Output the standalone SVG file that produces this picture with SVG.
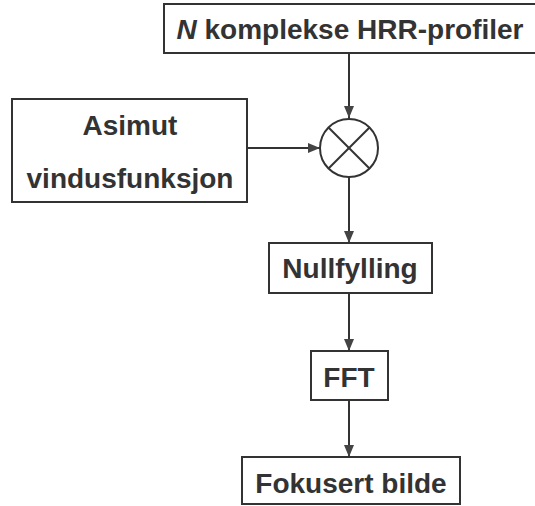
<svg xmlns="http://www.w3.org/2000/svg" width="535" height="506" viewBox="0 0 535 506">
<style>
.box{fill:#fff;stroke:#333;stroke-width:2}
.t{font-family:"Liberation Sans",Arial,sans-serif;font-weight:bold;font-size:28px;fill:#333;text-anchor:middle}
.c{stroke:#333;stroke-width:2;fill:none}
</style>
<defs>
<marker id="ah" markerWidth="12" markerHeight="10" refX="12" refY="5" orient="auto" markerUnits="userSpaceOnUse">
<path d="M0,0 L12,5 L0,10 Z" fill="#444"/>
</marker>
</defs>
<rect width="535" height="506" fill="#fff"/>
<g id="connectors">
<line class="c" x1="349" y1="53" x2="349" y2="118" marker-end="url(#ah)"/>
<line class="c" x1="247" y1="148" x2="320" y2="148" marker-end="url(#ah)"/>
<line class="c" x1="349" y1="177" x2="349" y2="243" marker-end="url(#ah)"/>
<line class="c" x1="349" y1="293" x2="349" y2="351" marker-end="url(#ah)"/>
<line class="c" x1="349" y1="400" x2="349" y2="457" marker-end="url(#ah)"/>
</g>
<g id="n-profiler">
<rect class="box" x="164" y="4" width="372" height="49"/>
<text class="t" x="350" y="39"><tspan font-style="italic">N</tspan> komplekse HRR-profiler</text>
</g>
<g id="asimut">
<rect class="box" x="12" y="99" width="235" height="103"/>
<text class="t" x="130" y="135">Asimut</text>
<text class="t" x="130" y="188">vindusfunksjon</text>
</g>
<g id="multiplier">
<circle class="c" cx="349" cy="148" r="29"/>
<line class="c" x1="328.5" y1="127.5" x2="369.5" y2="168.5"/>
<line class="c" x1="369.5" y1="127.5" x2="328.5" y2="168.5"/>
</g>
<g id="nullfylling">
<rect class="box" x="269" y="243" width="163" height="50"/>
<text class="t" x="350" y="278">Nullfylling</text>
</g>
<g id="fft">
<rect class="box" x="311" y="351" width="77" height="49"/>
<text class="t" x="349" y="387">FFT</text>
</g>
<g id="fokusert">
<rect class="box" x="242" y="457" width="218" height="47"/>
<text class="t" x="351" y="493">Fokusert bilde</text>
</g>
</svg>
